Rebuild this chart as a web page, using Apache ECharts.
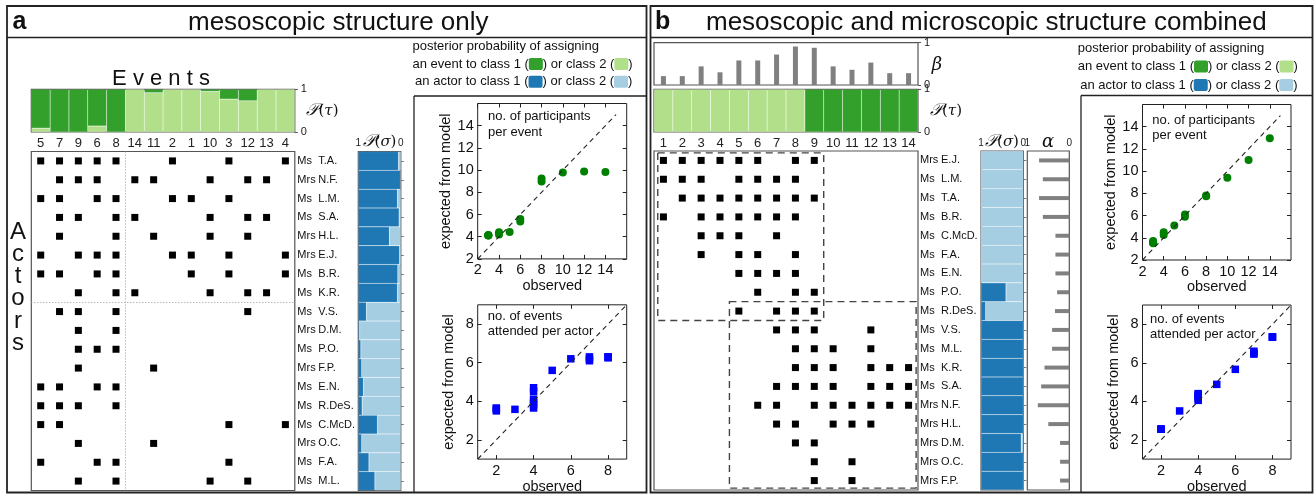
<!DOCTYPE html>
<html>
<head>
<meta charset="utf-8">
<script src="https://cdn.jsdelivr.net/npm/echarts@6/dist/echarts.min.js"></script>
<style>
  html, body { margin: 0; padding: 0; background: #fff; }
  #chart { width: 1316px; height: 495px; }
</style>
</head>
<body>
<div id="chart"></div>
<script>
// column / row orders of the two panels
const eventsA = [5, 7, 9, 6, 8, 14, 11, 2, 1, 10, 3, 12, 13, 4];
const eventsB = [1, 2, 3, 4, 5, 6, 7, 8, 9, 10, 11, 12, 13, 14];
const actorsA = ['T.A.', 'N.F.', 'L.M.', 'S.A.', 'H.L.', 'E.J.', 'B.R.', 'K.R.', 'V.S.',
  'D.M.', 'P.O.', 'F.P.', 'E.N.', 'R.DeS.', 'C.McD.', 'O.C.', 'F.A.', 'M.L.'];
const actorsB = ['E.J.', 'L.M.', 'T.A.', 'B.R.', 'C.McD.', 'F.A.', 'E.N.', 'P.O.', 'R.DeS.',
  'V.S.', 'M.L.', 'K.R.', 'S.A.', 'N.F.', 'H.L.', 'D.M.', 'O.C.', 'F.P.'];
const mrsActors = ['E.J.', 'N.F.', 'H.L.', 'D.M.', 'O.C.', 'F.P.'];

// events attended, one list per actor (actorsB order)
const attendedB = [
  [1, 2, 3, 4, 5, 6, 8, 9], [1, 2, 3, 5, 6, 7, 8], [2, 3, 4, 5, 6, 7, 8, 9],
  [1, 3, 4, 5, 6, 7, 8], [3, 4, 5, 7], [3, 5, 6, 8], [5, 6, 7, 8], [6, 8, 9],
  [5, 7, 8, 9], [7, 8, 9, 12], [8, 9, 10, 12], [8, 9, 10, 12, 13, 14],
  [7, 8, 9, 10, 12, 13, 14], [6, 7, 9, 10, 11, 12, 13, 14], [7, 8, 10, 11, 12],
  [8, 9], [9, 11], [9, 11]
];

// posterior probability of class 1
const pTauA = [0.91, 1, 1, 0.86, 1, 0, 0.08, 0, 0, 0.05, 0.23, 0.27, 0, 0];      // eventsA order
const pTauB = [0, 0, 0, 0, 0, 0, 0, 0, 1, 1, 1, 1, 1, 1];                        // eventsB order
const pSigmaA = [0.945, 0.99, 0.92, 0.96, 0.73, 0.97, 0.93, 0.92, 0.19, 0.03, 0.06, 0.08,
  0.12, 0.09, 0.45, 0.08, 0.25, 0.39];                                              // actorsA order
const pSigmaB = [0, 0, 0, 0, 0, 0, 0, 0.59, 0.11, 1, 1, 1, 1, 1, 1, 0.95, 1, 1];  // actorsB order
const betaB = [0.21, 0.21, 0.44, 0.30, 0.58, 0.58, 0.72, 0.91, 0.88, 0.44, 0.36, 0.53, 0.28, 0.28];
const alphaB = [0.72, 0.63, 0.72, 0.63, 0.33, 0.33, 0.33, 0.29, 0.34, 0.41, 0.41, 0.59, 0.67,
  0.75, 0.50, 0.22, 0.22, 0.22];

// scatter: participants per event (events 1..14)
const partObs = [3, 3, 6, 4, 8, 8, 10, 14, 12, 5, 4, 6, 3, 3];
const partExpA = [4.13, 4.13, 5.6, 4.4, 9.25, 8.97, 9.78, 9.84, 9.87, 4.43, 4.2, 5.36, 4.13, 4.1];
const partExpB = [3.5, 3.7, 6.1, 4.5, 7.8, 7.75, 9.4, 12.96, 11.0, 5.1, 4.25, 5.9, 3.6, 3.55];
// scatter: events attended per actor (actorsB order)
const attObs = [8, 7, 8, 7, 4, 4, 4, 3, 4, 4, 4, 6, 7, 8, 5, 2, 2, 2];
const attExpA = [6.3, 6.2, 6.25, 6.1, 3.65, 3.8, 3.95, 3.58, 4.1, 4.5, 4.7, 6.2, 6.3, 6.3, 5.6, 3.5, 3.65, 3.6];
const attExpB = [7.33, 6.6, 7.33, 6.5, 4.3, 4.15, 4.4, 3.5, 4.35, 4.05, 4.25, 5.66, 6.45, 7.35, 4.88, 2.56, 2.55, 2.56];

const partTicks = [2, 4, 6, 8, 10, 12, 14];
const attTicks = [2, 4, 6, 8];

const SANS = "'Liberation Sans', Arial, sans-serif";
const SERIF = "'DejaVu Serif', serif";
const DG = '#33a02c', LG = '#b2df8a', DB = '#1f78b4', LB = '#a6cee3', GREY = '#808080';

const chart = echarts.init(document.getElementById('chart'));

function matrixPoints(actors, events) {
  const pts = [];
  actors.forEach((a, row) => {
    attendedB[actorsB.indexOf(a)].forEach(e => pts.push([events.indexOf(e), row]));
  });
  return pts;
}

function nameFmt(v) {
  return (mrsActors.indexOf(v) >= 0 ? '{t|Mrs}' : '{t|Ms}') + v;
}

const grids = [
  { left: 31.3, top: 89.3, width: 263.5, height: 42.7 },    // 0 tau a
  { left: 31.3, top: 151.5, width: 263.5, height: 339 },    // 1 matrix a
  { left: 358.3, top: 151.5, width: 42.5, height: 339 },    // 2 sigma a
  { left: 477.7, top: 103.5, width: 149, height: 155.4 },   // 3 scatter a top
  { left: 477.7, top: 304.8, width: 149, height: 156.5 },   // 4 scatter a bottom
  { left: 654, top: 42.7, width: 264, height: 42.3 },       // 5 beta b
  { left: 654, top: 89.3, width: 264, height: 42.7 },       // 6 tau b
  { left: 654, top: 151, width: 264, height: 339 },         // 7 matrix b
  { left: 981, top: 151, width: 42.3, height: 339 },        // 8 sigma b
  { left: 1027.3, top: 151, width: 42, height: 339 },       // 9 alpha b
  { left: 1142.5, top: 104.5, width: 148.5, height: 155.5 },// 10 scatter b top
  { left: 1142.5, top: 305, width: 148.5, height: 156.5 }   // 11 scatter b bottom
].map(g => Object.assign({ show: true, borderColor: '#555', borderWidth: 1.2 }, g));
[3, 4, 10, 11].forEach(i => { grids[i].borderColor = '#222'; grids[i].borderWidth = 1; });

const xAxes = [], yAxes = [], series = [];
const extraX = [], extraY = [];   // tick-only mirror axes for the scatter frames
const noLine = { show: false };

function tauAxes(gi, events) {
  xAxes.push({ gridIndex: gi, type: 'category', data: events.map(String),
    axisLine: noLine, axisTick: noLine,
    axisLabel: { interval: 0, fontSize: 13, margin: 5, color: '#222', fontFamily: SANS } });
  yAxes.push(probYAxis(gi));
}
function probYAxis(gi) {
  return { gridIndex: gi, type: 'value', min: 0, max: 1, interval: 1, position: 'right',
    axisLine: noLine, splitLine: noLine,
    axisTick: { show: true, length: 3, lineStyle: { color: '#555' } },
    axisLabel: { fontSize: 11, margin: 6, color: '#222', fontFamily: SANS } };
}
function stackedBars(gi, p, cls1, cls2) {
  const base = { type: 'bar', xAxisIndex: gi, yAxisIndex: gi, stack: 's' + gi, barCategoryGap: '0%',
    silent: true };
  const border = { borderColor: 'rgba(255,255,255,0.2)', borderWidth: 0.5 };
  series.push(Object.assign({}, base, { data: p.map(v => 1 - v), itemStyle: Object.assign({ color: cls2 }, border) }));
  series.push(Object.assign({}, base, { data: p.slice(), itemStyle: Object.assign({ color: cls1 }, border) }));
}
function matrixAxes(gi, nCols, nRows) {
  xAxes.push({ gridIndex: gi, type: 'value', min: -0.5, max: nCols - 0.5, show: false });
  yAxes.push({ gridIndex: gi, type: 'value', min: -0.5, max: nRows - 0.5, inverse: true, show: false });
}
function sigmaAxes(gi, actors, showNames) {
  xAxes.push({ gridIndex: gi, type: 'value', min: 0, max: 1, interval: 1, inverse: true, position: 'top',
    axisLine: noLine, axisTick: noLine, splitLine: noLine,
    axisLabel: { fontSize: 10, margin: 3, color: '#222', fontFamily: SANS } });
  yAxes.push({ gridIndex: gi, type: 'category', data: actors, inverse: true,
    axisLine: noLine,
    axisTick: { show: showNames, inside: true, length: 3, alignWithLabel: true, lineStyle: { color: '#777' } },
    axisLabel: { show: showNames, interval: 0, align: 'left', margin: 61, formatter: nameFmt,
      fontSize: 11, fontFamily: SANS, color: '#111',
      rich: { t: { width: 21, fontSize: 11, fontFamily: SANS, color: '#111' } } } });
}
function scatterAxes(gi, lo, hi, ticks) {
  const tick = { show: true, inside: true, length: 4, customValues: ticks, lineStyle: { color: '#222' } };
  const common = { gridIndex: gi, type: 'value', min: lo, max: hi,
    axisLine: noLine, splitLine: noLine, axisTick: tick,
    axisLabel: { customValues: ticks, fontSize: 14.5, color: '#111', margin: 4, fontFamily: SANS },
    nameLocation: 'middle', nameTextStyle: { fontSize: 14.5, color: '#111', fontFamily: SANS } };
  xAxes.push(Object.assign({}, common, { name: 'observed', nameGap: 17 }));
  yAxes.push(Object.assign({}, common, { name: 'expected from model', nameGap: 21 }));
  const mirror = { gridIndex: gi, type: 'value', min: lo, max: hi, axisLine: noLine, splitLine: noLine,
    axisTick: tick, axisLabel: noLine };
  extraX.push(Object.assign({ position: 'top' }, mirror));
  extraY.push(Object.assign({ position: 'right' }, mirror));
}
function diag(lo, hi) {
  return { silent: true, symbol: ['none', 'none'], label: { show: false },
    lineStyle: { type: [5, 4], color: '#222', width: 1.1 },
    data: [[{ coord: [lo, lo] }, { coord: [hi, hi] }]] };
}
function scatterSeries(gi, obs, exp, symbol, size, color, lo, hi) {
  series.push({ type: 'scatter', xAxisIndex: gi, yAxisIndex: gi, symbol: symbol, symbolSize: size,
    itemStyle: { color: color, opacity: 1 }, data: obs.map((x, i) => [x, exp[i]]), markLine: diag(lo, hi) });
}

// ---- panel a
tauAxes(0, eventsA);
stackedBars(0, pTauA, DG, LG);

matrixAxes(1, eventsA.length, actorsA.length);
series.push({ type: 'scatter', xAxisIndex: 1, yAxisIndex: 1, symbol: 'rect', symbolSize: 7,
  itemStyle: { color: '#000', opacity: 1 }, data: matrixPoints(actorsA, eventsA),
  markLine: { silent: true, symbol: ['none', 'none'], label: { show: false },
    lineStyle: { type: [1, 2], color: '#999', width: 1 },
    data: [{ xAxis: 4.5 }, { yAxis: 7.5 }] } });

sigmaAxes(2, actorsA, true);
stackedBars(2, pSigmaA, DB, LB);

scatterAxes(3, 2, 16, partTicks);
scatterSeries(3, partObs, partExpA, 'circle', 8, '#008000', 2, 15);
scatterAxes(4, 1, 9, attTicks);
scatterSeries(4, attObs, attExpA, 'rect', 7.5, '#0000ff', 1, 9);

// ---- panel b
xAxes.push({ gridIndex: 5, type: 'category', data: eventsB.map(String), axisLine: noLine,
  axisTick: noLine, axisLabel: noLine });
yAxes.push(probYAxis(5));
series.push({ type: 'bar', xAxisIndex: 5, yAxisIndex: 5, data: betaB, barWidth: 5,
  itemStyle: { color: GREY } });

tauAxes(6, eventsB);
stackedBars(6, pTauB, DG, LG);

matrixAxes(7, eventsB.length, actorsB.length);
series.push({ type: 'scatter', xAxisIndex: 7, yAxisIndex: 7, symbol: 'rect', symbolSize: 7,
  itemStyle: { color: '#000', opacity: 1 }, data: matrixPoints(actorsB, eventsB),
  markArea: { silent: true, label: { show: false },
    itemStyle: { color: 'rgba(0,0,0,0)', borderColor: '#444', borderWidth: 1.4, borderType: [7, 5] },
    data: [
      [{ coord: [-0.3, -0.4] }, { coord: [8.5, 8.5] }],
      [{ coord: [3.5, 7.5] }, { coord: [13.4, 17.4] }]
    ] } });

sigmaAxes(8, actorsB, true);
stackedBars(8, pSigmaB, DB, LB);

sigmaAxes(9, actorsB, false);
series.push({ type: 'bar', xAxisIndex: 9, yAxisIndex: 9, data: alphaB, barWidth: 4,
  itemStyle: { color: GREY } });

scatterAxes(10, 2, 16, partTicks);
scatterSeries(10, partObs, partExpB, 'circle', 8, '#008000', 2, 15);
scatterAxes(11, 1, 9, attTicks);
scatterSeries(11, attObs, attExpB, 'rect', 7.5, '#0000ff', 1, 9);

// ---- decorations
function txt(x, y, text, size, extra) {
  return { type: 'text', x: x, y: y, silent: true,
    style: Object.assign({ text: text, fontSize: size, fontFamily: SANS, fill: '#111',
      textAlign: 'left', textVerticalAlign: 'middle' }, extra || {}) };
}
function line(x1, y1, x2, y2, w, c) {
  return { type: 'line', silent: true, shape: { x1: x1, y1: y1, x2: x2, y2: y2 },
    style: { stroke: c || '#222', lineWidth: w || 1.5 } };
}
const mathRich = {
  p: { fontFamily: SERIF, fontStyle: 'italic', fontSize: 17, fill: '#111' },
  n: { fontFamily: SERIF, fontSize: 15, fill: '#111' },
  i: { fontFamily: SERIF, fontStyle: 'italic', fontSize: 15, fill: '#111' }
};
const greekRich = { i: { fontFamily: SERIF, fontStyle: 'italic', fontSize: 18, fill: '#111' } };
const legendRich = {
  t: { fontSize: 13, fontFamily: SANS, fill: '#111' },
  dg: { width: 14, height: 12, backgroundColor: DG, borderRadius: 2 },
  lg: { width: 14, height: 12, backgroundColor: LG, borderRadius: 2 },
  db: { width: 14, height: 12, backgroundColor: DB, borderRadius: 2 },
  lb: { width: 14, height: 12, backgroundColor: LB, borderRadius: 2 }
};
function legend(x, y1, y2, y3) {
  return [
    txt(x, y1, 'posterior probability of assigning', 13),
    txt(x, y2, '{t|an event to class 1 (}{dg| }{t|) or class 2 (}{lg| }{t|)}', 13, { rich: legendRich }),
    txt(x + 2.6, y3, '{t|an actor to class 1 (}{db| }{t|) or class 2 (}{lb| }{t|)}', 13, { rich: legendRich })
  ];
}
// two-line annotations, y = centre of first line
function note(x, y, text) {
  return txt(x, y - 7.5, text, 13, { textVerticalAlign: 'top', lineHeight: 15.5 });
}

const graphic = [
  { type: 'rect', silent: true, shape: { x: 7, y: 6, width: 639.5, height: 486.5 },
    style: { fill: 'none', stroke: '#222', lineWidth: 1.8 } },
  { type: 'rect', silent: true, shape: { x: 650.5, y: 6, width: 662, height: 486.5 },
    style: { fill: 'none', stroke: '#222', lineWidth: 1.8 } },
  line(7, 37.5, 646.5, 37.5, 1.5),
  line(650.5, 37.5, 1312.5, 37.5, 1.5),
  line(414, 96, 646.5, 96, 1.3),
  line(414, 96, 414, 492.5, 1.3),
  line(1081, 95.5, 1312.5, 95.5, 1.3),
  line(1081, 95.5, 1081, 492.5, 1.3),

  txt(12.5, 22.5, 'a', 25, { fontWeight: 'bold' }),
  txt(188, 22.5, 'mesoscopic structure only', 26),
  txt(655, 22.5, 'b', 25, { fontWeight: 'bold' }),
  txt(706, 22.5, 'mesoscopic and microscopic structure combined', 26),

  txt(161, 78.5, 'E v e n t s', 22, { textAlign: 'center' }),
  txt(18, 221, 'A\nc\nt\no\nr\ns', 24, { textAlign: 'center', textVerticalAlign: 'top', lineHeight: 22.2 }),

  txt(322.5, 111, '{p|𝒫}{n|(}{i|τ}{n|)}', 15, { textAlign: 'center', rich: mathRich }),
  txt(379.5, 142, '{p|𝒫}{n|(}{i|σ}{n|)}', 15, { textAlign: 'center', rich: mathRich }),
  txt(937, 65, '{i|β}', 15, { textAlign: 'center', rich: greekRich }),
  txt(946, 111, '{p|𝒫}{n|(}{i|τ}{n|)}', 15, { textAlign: 'center', rich: mathRich }),
  txt(1002, 142, '{p|𝒫}{n|(}{i|σ}{n|)}', 15, { textAlign: 'center', rich: mathRich }),
  txt(1048, 142, '{i|α}', 15, { textAlign: 'center', rich: greekRich }),

  note(488, 116.5, 'no. of participants\nper event'),
  note(487.7, 315.7, 'no. of events\nattended per actor'),
  note(1152.3, 120, 'no. of participants\nper event'),
  note(1150, 319, 'no. of events\nattended per actor')
].concat(legend(412.5, 46.7, 64, 81.7), legend(1077.7, 48.3, 66.5, 85));

chart.setOption({
  animation: false,
  textStyle: { fontFamily: SANS },
  grid: grids,
  xAxis: xAxes.concat(extraX),
  yAxis: yAxes.concat(extraY),
  series: series,
  graphic: graphic
});
</script>
</body>
</html>
